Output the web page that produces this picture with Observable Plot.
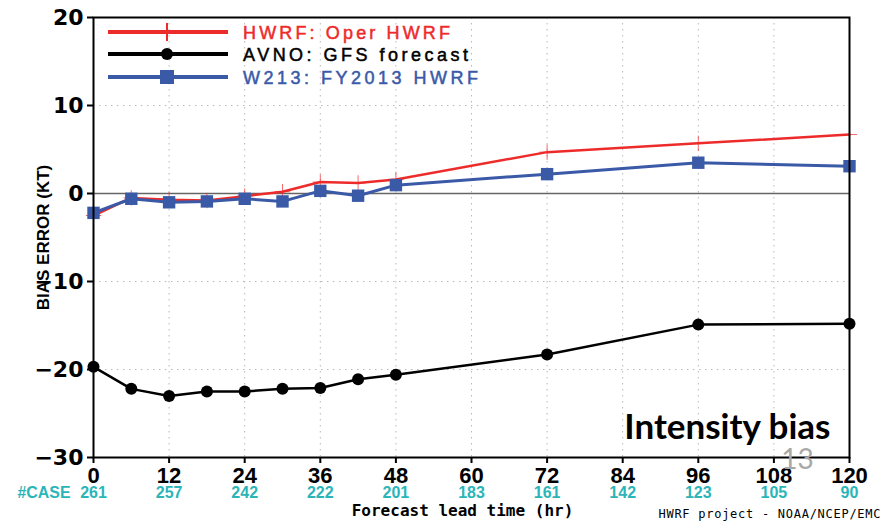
<!DOCTYPE html>
<html><head><meta charset="utf-8">
<script src="https://cdn.jsdelivr.net/npm/d3@7"></script>
<script src="https://cdn.jsdelivr.net/npm/@observablehq/plot@0.6"></script>
<style>
body{margin:0;background:#fff;}
#chart{position:relative;width:889px;height:524px;}
</style></head><body><div id="chart"></div>
<script>
// ---- data ----
const hours = [0, 6, 12, 18, 24, 30, 36, 42, 48, 72, 96, 120];
const hwrfOper = [-2.5, -0.5, -0.7, -0.8, -0.3, 0.2, 1.3, 1.2, 1.6, 4.7, 5.7, 6.7];
const avnoGfs = [-19.7, -22.2, -23.0, -22.5, -22.5, -22.2, -22.1, -21.1, -20.6, -18.3, -14.9, -14.8];
const w213 = [-2.2, -0.6, -1.0, -0.9, -0.6, -0.9, 0.3, -0.25, 0.95, 2.2, 3.5, 3.1];
const tickHours = [0, 12, 24, 36, 48, 60, 72, 84, 96, 108, 120];
const caseCounts = [261, 257, 242, 222, 201, 183, 161, 142, 123, 105, 90];
const yTicks = [-30, -20, -10, 0, 10, 20];
const seriesNames = ["HWRF: Oper HWRF", "AVNO: GFS forecast", "W213: FY2013 HWRF"];
const seriesColors = ["#ee2b2b", "#000000", "#3a5aa8"];

const rows = (vals, name) => hours.map((h, i) => ({hour: h, bias: vals[i], name}));
const redRows = rows(hwrfOper, seriesNames[0]);
const blackRows = rows(avnoGfs, seriesNames[1]);
const blueRows = rows(w213, seriesNames[2]);
const caseRows = tickHours.map((h, i) => ({hour: h, n: caseCounts[i]}));

const narrow = "'Liberation Sans Narrow','Arial Narrow','Liberation Sans',sans-serif";
const mono = "'DejaVu Sans Mono','Liberation Mono',monospace";
const teal = "#2bb5b8";

const chart = Plot.plot({
  width: 889, height: 524,
  marginLeft: 93, marginRight: 40, marginTop: 17, marginBottom: 67,
  style: {background: "white", overflow: "visible"},
  x: {domain: [0, 120], ticks: tickHours},
  y: {domain: [-30, 20], ticks: yTicks},
  marks: [
    Plot.gridX(tickHours.slice(1, -1), {stroke: "#b8b8b8", strokeOpacity: 1, strokeDasharray: "1.5,4.5"}),
    Plot.gridY([-20, -10, 10], {stroke: "#b8b8b8", strokeOpacity: 1, strokeDasharray: "1.5,4.5"}),
    Plot.ruleY([0], {stroke: "#666", strokeWidth: 1.5}),
    Plot.line(redRows, {x: "hour", y: "bias", stroke: seriesColors[0], strokeWidth: 2.5}),
    Plot.dot(redRows, {x: "hour", y: "bias", symbol: "plus", r: 5, stroke: seriesColors[0], strokeWidth: 1, strokeOpacity: 0.7}),
    Plot.line(blackRows, {x: "hour", y: "bias", stroke: seriesColors[1], strokeWidth: 2.5}),
    Plot.dot(blackRows, {x: "hour", y: "bias", r: 6, fill: seriesColors[1]}),
    Plot.line(blueRows, {x: "hour", y: "bias", stroke: seriesColors[2], strokeWidth: 3}),
    Plot.dot(blueRows, {x: "hour", y: "bias", symbol: "square", r: 7, fill: seriesColors[2]}),
    Plot.frame({stroke: "black", strokeWidth: 2}),
    Plot.axisY({ticks: yTicks, tickSize: 6, tickPadding: 4, fontSize: 22, fontWeight: "bold", fontFamily: "'DejaVu Sans',sans-serif", label: null, stroke: "black", strokeWidth: 2, color: "black"}),
    Plot.axisX({ticks: tickHours, tickSize: 6, tickPadding: 4, fontSize: 22, fontWeight: "bold", fontFamily: narrow, label: null, stroke: "black", strokeWidth: 2, color: "black"}),
    Plot.text(caseRows, {x: "hour", frameAnchor: "bottom", text: d => String(d.n), dy: 40, fontSize: 16, fontWeight: "bold", fontFamily: narrow, fill: teal}),
    Plot.text(["#CASE"], {frameAnchor: "bottom-left", text: d => d, dx: -76, dy: 40, textAnchor: "start", fontSize: 16, fontWeight: "bold", fontFamily: narrow, fill: teal, className: "casehdr"}),
    Plot.text(["Forecast lead time (hr)"], {frameAnchor: "bottom", text: d => d, dx: -9, dy: 58, fontSize: 16, fontWeight: "bold", fontFamily: mono, fill: "black"}),
    Plot.text(["HWRF project - NOAA/NCEP/EMC"], {frameAnchor: "bottom-right", text: d => d, dx: -191, dy: 60, textAnchor: "start", fontSize: 12, fontFamily: mono, fill: "black", className: "credit"}),
    Plot.text(["BIAS ERROR (KT)"], {frameAnchor: "left", text: d => d, rotate: -90, dx: -50, textAnchor: "middle", fontSize: 17, fontWeight: "bold", fontFamily: narrow, fill: "black"}),
    Plot.text(["Intensity bias"], {frameAnchor: "bottom-right", text: d => d, dx: -19, dy: -19, textAnchor: "end", lineAnchor: "bottom", fontSize: 35, fontWeight: "bold", fontFamily: "Lato,sans-serif", fill: "black"}),
    Plot.text(["13"], {frameAnchor: "bottom-right", text: d => d, dx: -52, dy: 11, textAnchor: "middle", lineAnchor: "bottom", fontSize: 28, fontFamily: "Lato,sans-serif", fill: "#a8a8a8"})
  ]
});
document.getElementById("chart").appendChild(chart);

const svg = d3.select(chart);
svg.selectAll("g.casehdr text").attr("textLength", 53).attr("lengthAdjust", "spacingAndGlyphs");
svg.selectAll("g.credit text").attr("textLength", 222).attr("lengthAdjust", "spacing");

// ---- legend (inside plot, top-left) ----
const lg = svg.append("g").attr("class", "legend").attr("text-anchor", "start");
const legY = [32, 54, 77];
const legLen = [207, 225, 235];
seriesNames.forEach((name, i) => {
  const y = legY[i];
  lg.append("line").attr("x1", 108).attr("x2", 228).attr("y1", y).attr("y2", y)
    .attr("stroke", seriesColors[i]).attr("stroke-width", 4);
  if (i === 0) {
    lg.append("line").attr("x1", 167).attr("x2", 167).attr("y1", y - 9).attr("y2", y + 9)
      .attr("stroke", seriesColors[i]).attr("stroke-width", 2);
  } else if (i === 1) {
    lg.append("circle").attr("cx", 167).attr("cy", y).attr("r", 6).attr("fill", seriesColors[i]);
  } else {
    lg.append("rect").attr("x", 160).attr("y", y - 7).attr("width", 14).attr("height", 14).attr("fill", seriesColors[i]);
  }
  lg.append("text").attr("x", 243).attr("y", y + 6.5).text(name)
    .attr("fill", seriesColors[i]).attr("stroke", seriesColors[i]).attr("stroke-width", 0.5)
    .attr("font-size", 18).attr("textLength", legLen[i]).attr("lengthAdjust", "spacing")
    .attr("font-family", "'Liberation Sans',sans-serif");
});
</script></body></html>
